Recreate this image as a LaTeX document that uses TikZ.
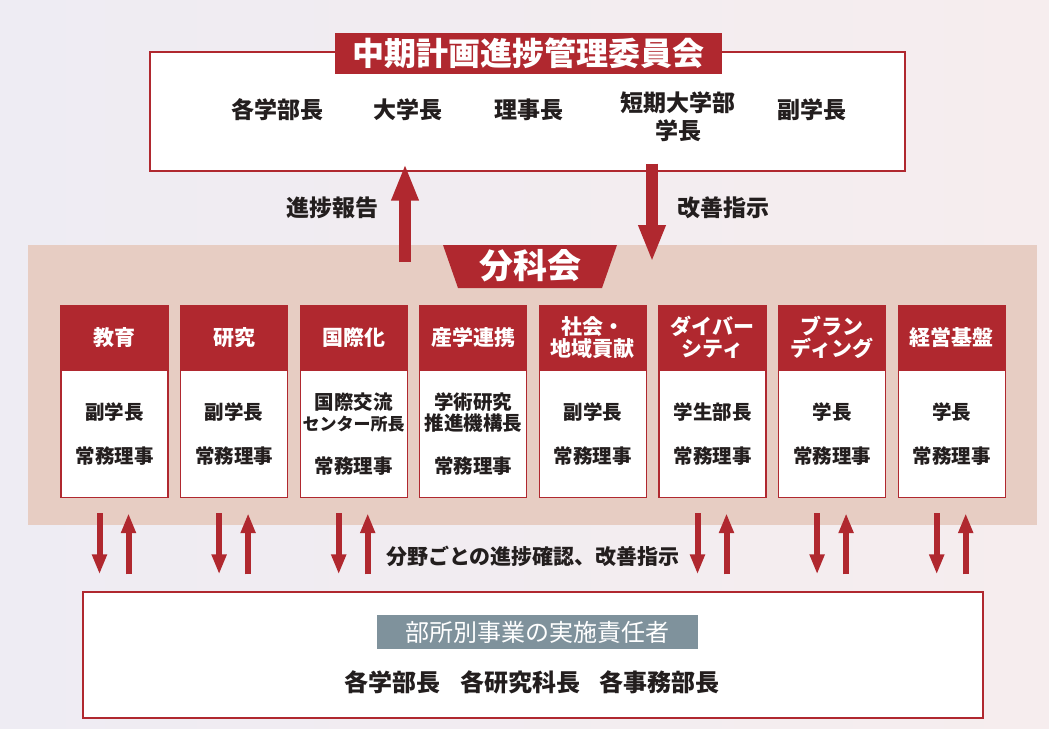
\documentclass[tikz,border=0pt]{standalone}
\usepackage{fontspec}
\newfontfamily\jp{Noto Sans CJK JP}
\usetikzlibrary{arrows.meta,calc}

\definecolor{akared}{RGB}{176,40,47}
\definecolor{bandcol}{RGB}{231,205,195}
\definecolor{graylabel}{RGB}{127,146,156}
\definecolor{sumi}{RGB}{35,30,30}
\definecolor{bgleft}{RGB}{238,236,243}
\definecolor{bgright}{RGB}{246,237,238}

\begin{document}
\begin{tikzpicture}[x=1pt, y=-1pt,
    waku/.style={draw=akared, line width=1.3pt, fill=white, inner sep=0pt},
    midashi/.style={fill=akared, draw=akared, line width=1.2pt, text=white, align=center,
      font=\jp\bfseries\fontsize{21}{22}\selectfont, minimum width=107pt, minimum height=63pt, inner sep=0pt},
    honbun/.style={fill=white, draw=akared, line width=1.2pt, text=sumi, align=center,
      font=\jp\bfseries\fontsize{19.5}{21}\selectfont, minimum width=107pt, minimum height=127pt, inner sep=0pt},
    member/.style={text=sumi, align=center, font=\jp\bfseries\fontsize{23}{28}\selectfont},
    yajirushi/.style={text=sumi, font=\jp\bfseries\fontsize{23}{26}\selectfont},
    bigarrow/.style={draw=akared, line width=12pt, -{Triangle[width=25pt,length=37pt]}},
    smallarrow/.style={draw=akared, line width=6pt, -{Triangle[width=14pt,length=20pt]}}]

    % 背景
    \useasboundingbox (0,0) rectangle (1049,728);
    \shade[left color=bgleft, right color=bgright] (0,0) rectangle (1049,728);

    % 中期計画進捗管理委員会
    \node[waku, minimum width=755pt, minimum height=119pt] (iinkai) at (527.5,111.5) {};
    \node[fill=akared, text=white, inner sep=0pt, minimum width=387pt, minimum height=41pt,
      font=\jp\bfseries\fontsize{32}{34}\selectfont] (title) at (528.5,53) {中期計画進捗管理委員会};
    \node[member] (m1) at (277,110) {各学部長};
    \node[member] (m2) at (408,110) {大学長};
    \node[member] (m3) at (529,110) {理事長};
    \node[member] (m4) at (678,117) {短期大学部\\学長};
    \node[member] (m5) at (812,110) {副学長};

    % 分科会の帯
    \node[fill=bandcol, minimum width=1009pt, minimum height=280pt, inner sep=0pt] (band) at (532.5,385) {};
    \fill[akared] (443,245) -- (617,245) -- (602,288) -- (458,288) -- cycle;
    \node[text=white, font=\jp\bfseries\fontsize{34}{36}\selectfont] (bunkakai) at (530,266) {分科会};

    % 委員会との矢印
    \coordinate (upfoot) at (405,262);
    \coordinate (downtip) at (652,262);
    \draw[bigarrow] (upfoot) -- ($(upfoot |- iinkai.south)+(0,-8)$);
    \draw[bigarrow] ($(downtip |- iinkai.south)+(0,-8)$) -- (downtip);
    \node[yajirushi] (houkoku) at (332,208) {進捗報告};
    \node[yajirushi] (shiji) at (723,208) {改善指示};

    % 各分科会
    \foreach \i/\head/\body in {
        1/教育/{副学長\\[23pt]常務理事},
        2/研究/{副学長\\[23pt]常務理事},
        3/国際化/{国際交流\\{\fontsize{17}{21}\selectfont センター所長}\\[22pt]常務理事},
        4/産学連携/{学術研究\\推進機構長\\[22pt]常務理事},
        5/{社会・\\地域貢献}/{副学長\\[23pt]常務理事},
        6/{ダイバー\\シティ}/{学生部長\\[23pt]常務理事},
        7/{ブラン\\ディング}/{学長\\[23pt]常務理事},
        8/経営基盤/{学長\\[23pt]常務理事}} {
      \node[midashi] (h\i) at ({114.5+119.6*(\i-1)},337.5) {\head};
      \node[honbun, anchor=north] (col\i) at (h\i.south) {\body};
    }

    % 実施責任者
    \node[waku, minimum width=900pt, minimum height=126pt] (jisshi) at (533,655) {};
    \node[fill=graylabel, text=white, inner sep=0pt, minimum width=321pt, minimum height=34pt,
      font=\jp\fontsize{24}{26}\selectfont] (sekinin) at (537,632) {部所別事業の実施責任者};
    \node[member, font=\jp\bfseries\fontsize{24}{28}\selectfont] (bucho) at (532,682) {各学部長\hspace{0.8em}各研究科長\hspace{0.8em}各事務部長};

    % 分野ごとの矢印
    \foreach \i in {1,2,3,6,7,8} {
      \draw[smallarrow] ($(band.south -| col\i)+(-15,-12)$) -- ($(jisshi.north -| col\i)+(-15,-17)$);
      \draw[smallarrow] ($(jisshi.north -| col\i)+(14,-17)$) -- ($(band.south -| col\i)+(14,-12)$);
    }
    \node[yajirushi, font=\jp\bfseries\fontsize{21}{24}\selectfont] (kakunin) at (533,556) {分野ごとの進捗確認、改善指示};
  \end{tikzpicture}
\end{document}
